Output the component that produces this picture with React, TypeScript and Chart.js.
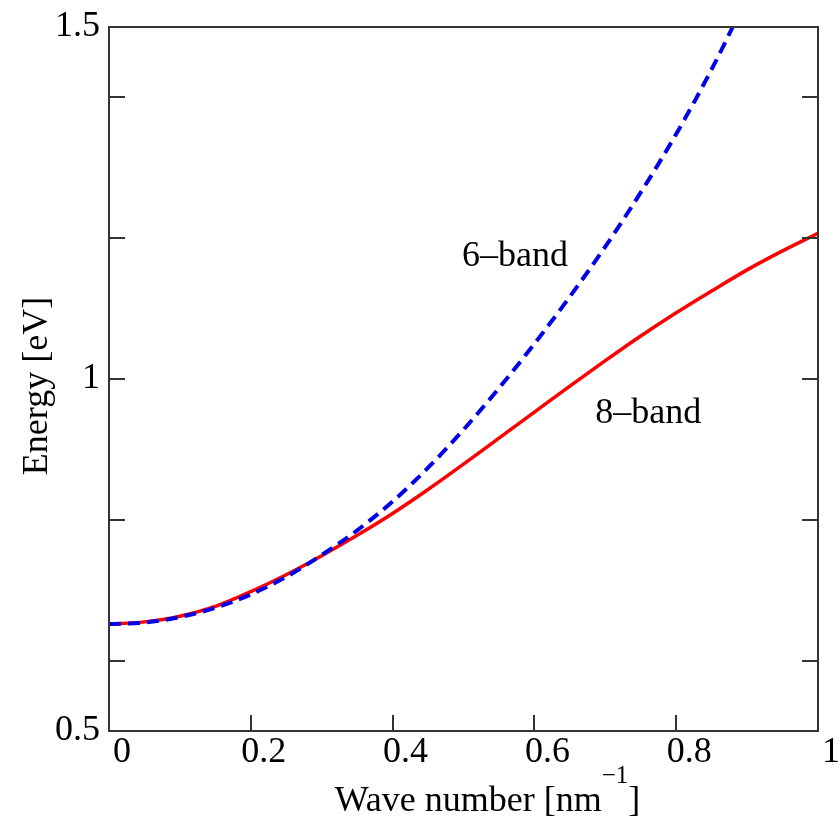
import React, { useEffect, useRef } from "react";
import { Chart, registerables } from "chart.js";

Chart.register(...registerables);

// Wave number [nm^-1] sample positions
const waveNumbers8 = [0, 0.05, 0.1, 0.15, 0.2, 0.25, 0.3, 0.35, 0.4, 0.45, 0.5, 0.55, 0.6, 0.65, 0.7, 0.75, 0.8, 0.85, 0.9, 0.95, 1.0];
// 8-band energies [eV]
const energy8Band = [0.652, 0.655, 0.663, 0.677, 0.698, 0.722, 0.749, 0.778, 0.809, 0.843, 0.879, 0.916, 0.953, 0.99, 1.026, 1.061, 1.094, 1.125, 1.155, 1.182, 1.207];

const waveNumbers6 = [0, 0.05, 0.1, 0.15, 0.2, 0.25, 0.3, 0.35, 0.4, 0.45, 0.5, 0.55, 0.6, 0.65, 0.7, 0.75, 0.8, 0.85, 0.9];
// 6-band energies [eV]
const energy6Band = [0.652, 0.654, 0.662, 0.675, 0.694, 0.719, 0.75, 0.785, 0.826, 0.874, 0.928, 0.987, 1.05, 1.117, 1.188, 1.265, 1.348, 1.44, 1.542];

const xTickLabels = ["0", "0.2", "0.4", "0.6", "0.8", "1"];
const yTickValues = [0.5, 0.6, 0.8, 1.0, 1.2, 1.4, 1.5];
const yLabeledValues = [0.5, 1, 1.5];

const bandLabels = ["6\u2013band", "8\u2013band"];
const bandLabelX = [0.498, 0.686];
const bandLabelY = [1.16, 0.938];

const yTitle = "Energy [eV]";
const xTitleMain = "Wave number [nm";
const xTitleSup = "\u22121";
const xTitleEnd = "]";

const FONT = '"Liberation Serif", "Times New Roman", serif';

const framePlugin = {
  id: "framePlugin",
  afterDraw(chart: any) {
    const { ctx, chartArea: a, scales } = chart;
    const xs = scales.x;
    const ys = scales.y;
    ctx.save();
    ctx.strokeStyle = "#333333";
    ctx.lineWidth = 2;
    ctx.strokeRect(a.left, a.top, a.right - a.left, a.bottom - a.top);
    ctx.beginPath();
    ys.ticks.forEach((t: any) => {
      if (t.value <= ys.min + 1e-9 || t.value >= ys.max - 1e-9) return;
      const py = Math.round(ys.getPixelForValue(t.value));
      ctx.moveTo(a.left, py);
      ctx.lineTo(a.left + 16, py);
      ctx.moveTo(a.right, py);
      ctx.lineTo(a.right - 16, py);
    });
    xs.ticks.forEach((t: any) => {
      if (t.value <= xs.min + 1e-9 || t.value >= xs.max - 1e-9) return;
      const px = Math.round(xs.getPixelForValue(t.value));
      ctx.moveTo(px, a.bottom);
      ctx.lineTo(px, a.bottom - 16);
    });
    ctx.stroke();

    ctx.fillStyle = "#000000";
    ctx.font = `36px ${FONT}`;
    ctx.textAlign = "left";
    ctx.textBaseline = "alphabetic";
    bandLabels.forEach((txt, i) => {
      ctx.fillText(txt, xs.getPixelForValue(bandLabelX[i]), ys.getPixelForValue(bandLabelY[i]));
    });

    // y axis title
    ctx.save();
    ctx.translate(a.left - 62, (a.top + a.bottom) / 2 + 7);
    ctx.rotate(-Math.PI / 2);
    ctx.textAlign = "center";
    ctx.fillText(yTitle, 0, 0);
    ctx.restore();

    // x axis title with superscript
    ctx.font = `36px ${FONT}`;
    const wMain = ctx.measureText(xTitleMain).width;
    const wEnd = ctx.measureText(xTitleEnd).width;
    ctx.font = `25px ${FONT}`;
    const wSup = ctx.measureText(xTitleSup).width;
    const total = wMain + wSup + wEnd;
    let sx = (a.left + a.right) / 2 + 24 - total / 2;
    const by = a.bottom + 80;
    ctx.textAlign = "left";
    ctx.font = `36px ${FONT}`;
    ctx.fillText(xTitleMain, sx, by);
    sx += wMain;
    ctx.font = `25px ${FONT}`;
    ctx.fillText(xTitleSup, sx, by - 28);
    sx += wSup;
    ctx.font = `36px ${FONT}`;
    ctx.fillText(xTitleEnd, sx, by);
    ctx.restore();
  },
};

export default function App() {
  const canvasRef = useRef<HTMLCanvasElement | null>(null);

  useEffect(() => {
    if (!canvasRef.current) return;
    const chart = new Chart(canvasRef.current, {
      type: "line",
      data: {
        datasets: [
          {
            label: "6-band",
            data: waveNumbers6.map((k, i) => ({ x: k, y: energy6Band[i] })),
            borderColor: "#0000e8",
            borderWidth: 4,
            borderDash: [12, 7],
            pointRadius: 0,
            cubicInterpolationMode: "monotone",
            fill: false,
            clip: 0,
          },
          {
            label: "8-band",
            data: waveNumbers8.map((k, i) => ({ x: k, y: energy8Band[i] })),
            borderColor: "#ff0000",
            borderWidth: 3.5,
            pointRadius: 0,
            cubicInterpolationMode: "monotone",
            fill: false,
            clip: 0,
          },
        ],
      },
      options: {
        animation: false,
        responsive: false,
        maintainAspectRatio: false,
        layout: { padding: { left: 0, right: 22, top: 21, bottom: 0 } },
        plugins: {
          legend: { display: false },
          tooltip: { enabled: false },
          title: { display: false },
        },
        scales: {
          x: {
            type: "linear",
            min: 0,
            max: 1,
            grid: { display: false, drawTicks: false },
            border: { display: false },
            ticks: {
              stepSize: 0.2,
              autoSkip: false,
              maxRotation: 0,
              minRotation: 0,
              labelOffset: 13,
              padding: 4,
              color: "#000000",
              font: { family: FONT, size: 36, lineHeight: 1 },
              callback: (_value: any, index: number) => xTickLabels[index] ?? "",
            },
            afterFit: (scale: any) => {
              scale.height = 85;
            },
          },
          y: {
            type: "linear",
            min: 0.5,
            max: 1.5,
            grid: { display: false, drawTicks: false },
            border: { display: false },
            afterBuildTicks: (scale: any) => {
              scale.ticks = yTickValues.map((v) => ({ value: v }));
            },
            ticks: {
              autoSkip: false,
              padding: 9,
              color: "#000000",
              font: { family: FONT, size: 36, lineHeight: 1 },
              callback: (value: any) => {
                const v = Number(value);
                const hit = yLabeledValues.find((l) => Math.abs(l - v) < 1e-6);
                return hit !== undefined ? String(hit) : "";
              },
            },
            afterFit: (scale: any) => {
              scale.width = 109;
            },
          },
        },
      },
      plugins: [framePlugin],
    } as any);
    return () => chart.destroy();
  }, []);

  return (
    <div style={{ position: "absolute", left: 0, top: 0, width: 840, height: 816, background: "#ffffff" }}>
      <canvas ref={canvasRef} width={840} height={816} style={{ display: "block" }} />
    </div>
  );
}
